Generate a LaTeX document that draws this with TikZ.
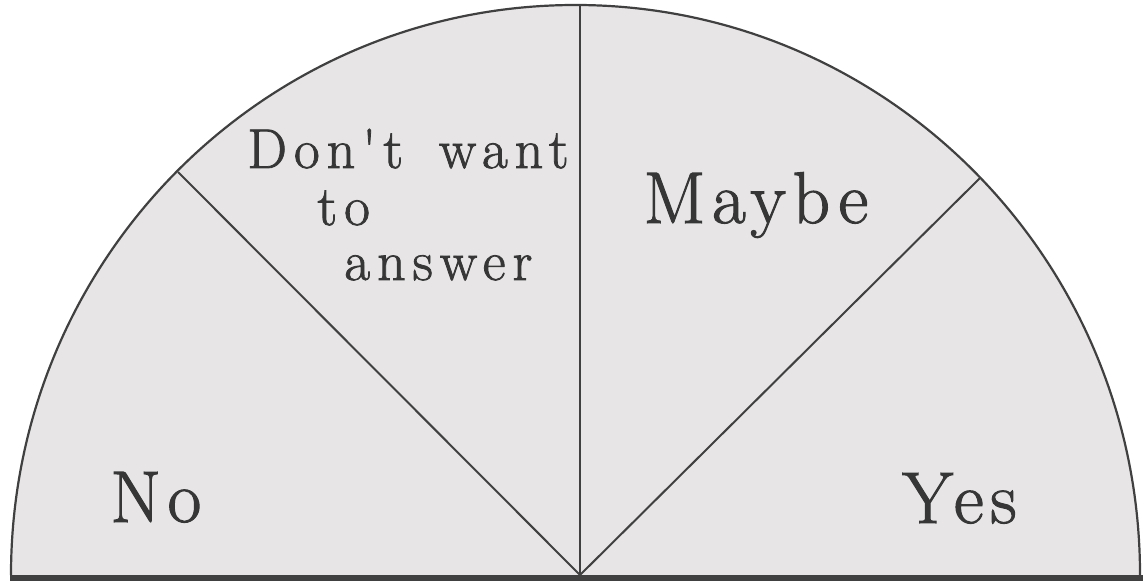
\documentclass[tikz,border=0pt]{standalone}
\usepackage{fontspec}
\newfontfamily\lblfont{Latin Modern Roman}[LetterSpace=9,FakeBold=1.4]
\newfontfamily\lblsmall{Latin Modern Roman}[LetterSpace=12.5,FakeBold=1.4]
\definecolor{sectorfill}{HTML}{E7E5E6}
\definecolor{inkline}{HTML}{404040}
\definecolor{inktext}{HTML}{363636}
\begin{document}
\begin{tikzpicture}[x=0.5pt,y=-0.5pt,
  bigtext/.style={anchor=base west,inner sep=0pt,text=inktext,font=\lblfont\fontsize{36.6}{40}\selectfont},
  smalltext/.style={anchor=base west,inner sep=0pt,text=inktext,font=\lblsmall\fontsize{28}{32}\selectfont},
  divider/.style={draw=inkline,line width=1pt}]
\useasboundingbox (0,0) rectangle (1143,582);
% geometry
\coordinate (O) at (580,575);
\coordinate (L) at (11,575);
\coordinate (R) at (1140,575);
\coordinate (T) at (580,5);
\coordinate (DL) at (178,172);
\coordinate (DR) at (980,178);
% sector fill and arc
\fill[sectorfill] (L) arc[start angle=180,end angle=0,x radius=564.5,y radius=-570] -- cycle;
\draw[inkline,line width=1.1pt] (L) arc[start angle=180,end angle=0,x radius=564.5,y radius=-570];
% dividers
\draw[divider] (O) -- (DL);
\draw[divider] (O) -- (T);
\draw[divider] (O) -- (DR);
% base bar
\coordinate (B1) at (10,578);
\coordinate (B2) at (1143,578);
\draw[inkline,line width=3pt] (B1) -- (B2);
% labels
\node[bigtext] (no) at (110,522) {No};
\node[bigtext] (yes) at (902,523) {Yes};
\node[bigtext] (maybe) at (643,223) {Maybe};
\node[smalltext] (dw1) at (247,168) {Don't\hspace{6pt} want};
\node[smalltext] (dw2) at (317,225) {to};
\node[smalltext] (dw3) at (344,280) {answer};
\end{tikzpicture}
\end{document}
